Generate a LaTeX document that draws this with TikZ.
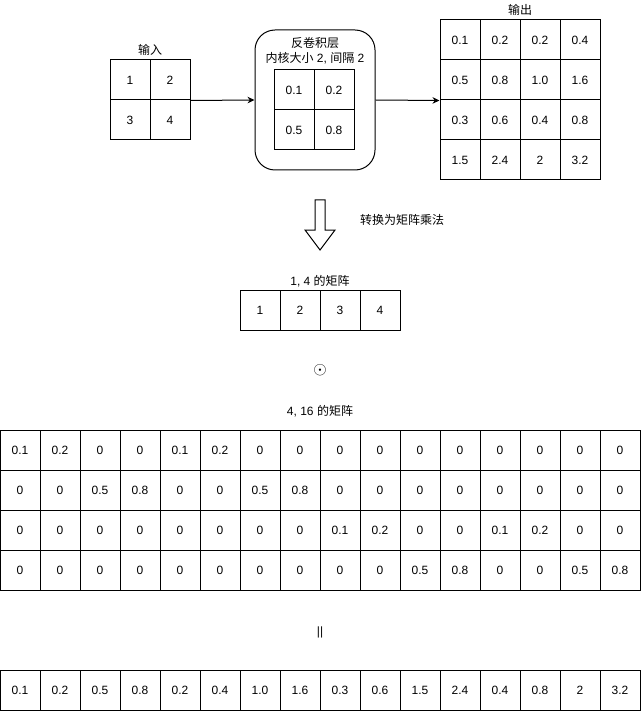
\documentclass[tikz,border=0pt]{standalone}
\usepackage{fontspec}
\setmainfont{Liberation Sans}
\newfontfamily\cjk{Noto Sans CJK SC}
\usetikzlibrary{arrows.meta}

\tikzset{
  cell/.style={draw, line width=1pt, minimum size=40pt, inner sep=0pt},
  lbl/.style={inner sep=0pt},
}

\begin{document}
\begin{tikzpicture}[x=1pt,y=-1pt,>={Stealth[length=7pt,width=6.5pt]},
                    font=\fontsize{12pt}{14pt}\selectfont]
        \useasboundingbox (0,0) rectangle (641,711);

        % the input
        \node[lbl] (intitle) at (150,50) {\cjk 输入};
        \foreach \r/\c/\v in {1/1/1,1/2/2,2/1/3,2/2/4}
                \node[cell] (in\r\c) at (90+40*\c, 40+40*\r) {\v};

        % the layer with its kernel
        \node[draw, line width=1pt, rounded corners=20pt,
              minimum width=120pt, minimum height=140pt] (layer) at (315,100) {};
        \node[lbl, align=center] (laytitle) at (315,51)
                {{\cjk 反卷积层}\\[1pt]{\cjk 内核大小} 2, {\cjk 间隔} 2};
        \foreach \r/\c/\v in {1/1/0.1,1/2/0.2,2/1/0.5,2/2/0.8}
                \node[cell] (k\r\c) at (254+40*\c, 50+40*\r) {\v};

        % the output
        \node[lbl] (outtitle) at (520,10) {\cjk 输出};
        \foreach \r/\row in {1/{0.1,0.2,0.2,0.4},
                             2/{0.5,0.8,1.0,1.6},
                             3/{0.3,0.6,0.4,0.8},
                             4/{1.5,2.4,2,3.2}}
                \foreach \v [count=\c] in \row
                        \node[cell] (out\r\c) at (420+40*\c, 40*\r) {\v};

        \draw[->, line width=1pt] (in12.south east) -- (layer.west);
        \draw[->, line width=1pt] (layer.east) -- (out21.south west);

        % the hollow arrow down
        \draw[line width=1pt] (315,200) -- (325,200) -- (325,230) -- (335,230)
                -- (320,250) -- (305,230) -- (315,230) -- cycle;
        \node[lbl, anchor=west] (convtext) at (360,220) {\cjk 转换为矩阵乘法};

        % the 1, 4 matrix
        \node[lbl] (vectitle) at (320,281) {1, 4 {\cjk 的矩阵}};
        \foreach \v [count=\c] in {1,2,3,4}
                \node[cell] (vec\c) at (220+40*\c, 310) {\v};

        \node[lbl, font=\fontsize{17pt}{17pt}\selectfont] (prod) at (320,370) {$\odot$};

        % the 4, 16 matrix
        \node[lbl] (bigtitle) at (320,411) {4, 16 {\cjk 的矩阵}};
        \foreach \r/\row in {1/{0.1,0.2,0,0,0.1,0.2,0,0,0,0,0,0,0,0,0,0},
                             2/{0,0,0.5,0.8,0,0,0.5,0.8,0,0,0,0,0,0,0,0},
                             3/{0,0,0,0,0,0,0,0,0.1,0.2,0,0,0.1,0.2,0,0},
                             4/{0,0,0,0,0,0,0,0,0,0,0.5,0.8,0,0,0.5,0.8}}
                \foreach \v [count=\c] in \row
                        \node[cell] (big-\r-\c) at (40*\c-20, 410+40*\r) {\v};

        \node[lbl] (eq) at (320,632) {||};

        % the result
        \foreach \v [count=\c] in {0.1,0.2,0.5,0.8,0.2,0.4,1.0,1.6,0.3,0.6,1.5,2.4,0.4,0.8,2,3.2}
                \node[cell] (res\c) at (40*\c-20, 690) {\v};
\end{tikzpicture}
\end{document}
